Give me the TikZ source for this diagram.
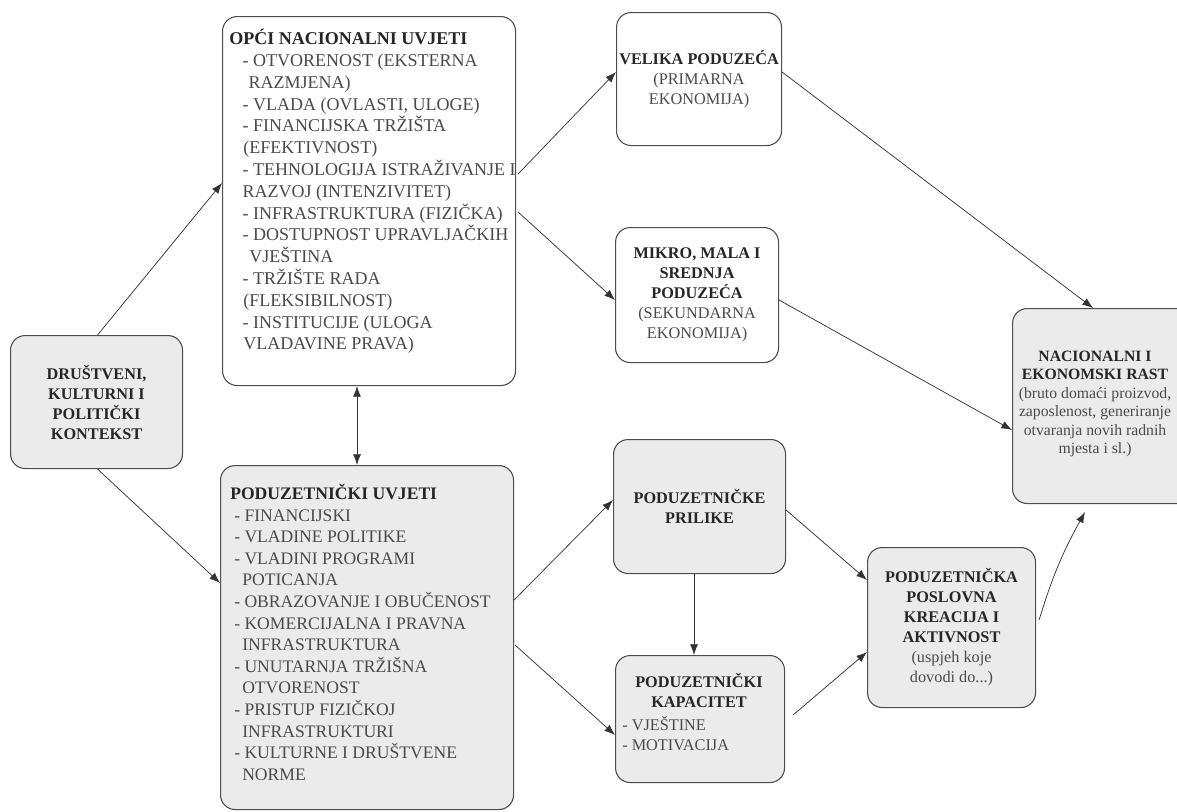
\documentclass[tikz,border=0pt]{standalone}
\usepackage{fontspec}
\setmainfont{Liberation Serif}
\usetikzlibrary{arrows.meta,calc}
\definecolor{boxgray}{HTML}{EBEBEB}
\definecolor{edgec}{HTML}{4D4D4D}
\definecolor{txt}{HTML}{262626}
\definecolor{txtl}{HTML}{4A4A4A}
\begin{document}
\begin{tikzpicture}[x=0.75pt,y=-0.75pt,
  box/.style={draw=edgec, line width=0.8pt, rounded corners=11pt, inner sep=0pt, anchor=north west, align=center, text=txt},
  wbox/.style={box, fill=white},
  gbox/.style={box, fill=boxgray},
  arr/.style={draw=black!80, line width=0.55pt, -{Latex[length=8pt,width=6pt]}},
  darr/.style={draw=black!80, line width=0.55pt, {Latex[length=8pt,width=6pt]}-{Latex[length=8pt,width=6pt]}},
  sf/.style={font=\fontsize{12.2}{15}\selectfont},
  nf/.style={font=\fontsize{11.8}{13.8}\selectfont},
  lt/.style={anchor=north west, inner sep=0pt, align=left, text=txtl},
]
\useasboundingbox (0,0) rectangle (1177,811);

% boxes
\node[gbox, sf, minimum width=172*0.75pt, minimum height=133*0.75pt] (ctx) at (10,335)
  {\textbf{DRUŠTVENI,}\\\textbf{KULTURNI I}\\\textbf{POLITIČKI}\\\textbf{KONTEKST}};
\node[wbox, minimum width=293*0.75pt, minimum height=369*0.75pt] (opci) at (222,16) {};
\node[gbox, minimum width=293*0.75pt, minimum height=344*0.75pt] (pu) at (220,465) {};
\node[wbox, sf, minimum width=165*0.75pt, minimum height=133*0.75pt] (vel) at (616,12)
  {\textbf{VELIKA PODUZEĆA}\\\textcolor{txtl}{(PRIMARNA}\\\textcolor{txtl}{EKONOMIJA)}};
\node[wbox, sf, minimum width=163*0.75pt, minimum height=135*0.75pt] (mik) at (615,227)
  {\textbf{MIKRO, MALA I}\\\textbf{SREDNJA}\\\textbf{PODUZEĆA}\\\textcolor{txtl}{(SEKUNDARNA}\\\textcolor{txtl}{EKONOMIJA)}};
\node[gbox, minimum width=190*0.75pt, minimum height=195*0.75pt] (nac) at (1012,308) {};
\node[nf, inner sep=0pt, align=center, text=txt] (nact) at (1095,404)
  {\textbf{NACIONALNI I}\\\textbf{EKONOMSKI RAST}\\\textcolor{txtl}{(bruto domaći proizvod,}\\\textcolor{txtl}{zaposlenost, generiranje}\\\textcolor{txtl}{otvaranja novih radnih}\\\textcolor{txtl}{mjesta i sl.)}};
\node[gbox, sf, minimum width=172*0.75pt, minimum height=134*0.75pt] (pri) at (613,439)
  {\textbf{PODUZETNIČKE}\\\textbf{PRILIKE}};
\node[gbox, minimum width=169*0.75pt, minimum height=127*0.75pt] (kap) at (615,655) {};
\node[gbox, sf, minimum width=168*0.75pt, minimum height=160*0.75pt] (pos) at (867,547)
  {\textbf{PODUZETNIČKA}\\\textbf{POSLOVNA}\\\textbf{KREACIJA I}\\\textbf{AKTIVNOST}\\\textcolor{txtl}{(uspjeh koje}\\\textcolor{txtl}{dovodi do...)}};

% texts in large boxes
\node[lt, font=\fontsize{13.5}{16.35}\selectfont] (opcit) at (229,29)
  {\textcolor{txt}{\textbf{OPĆI NACIONALNI UVJETI}}\\
   \hspace*{10pt}- OTVORENOST (EKSTERNA\\
   \hspace*{14.5pt}RAZMJENA)\\
   \hspace*{10pt}- VLADA (OVLASTI, ULOGE)\\
   \hspace*{10pt}- FINANCIJSKA TRŽIŠTA\\
   \hspace*{10.5pt}(EFEKTIVNOST)\\
   \hspace*{10pt}- TEHNOLOGIJA ISTRAŽIVANJE I\\
   \hspace*{10pt}RAZVOJ (INTENZIVITET)\\
   \hspace*{10pt}- INFRASTRUKTURA (FIZIČKA)\\
   \hspace*{10pt}- DOSTUPNOST UPRAVLJAČKIH\\
   \hspace*{15pt}VJEŠTINA\\
   \hspace*{10pt}- TRŽIŠTE RADA\\
   \hspace*{10.5pt}(FLEKSIBILNOST)\\
   \hspace*{10pt}- INSTITUCIJE (ULOGA\\
   \hspace*{10.5pt}VLADAVINE PRAVA)};
\node[lt, font=\fontsize{13.2}{16.2}\selectfont] (put) at (230,484)
  {\textcolor{txt}{\textbf{PODUZETNIČKI UVJETI}}\\
   \hspace*{3pt}- FINANCIJSKI\\
   \hspace*{3pt}- VLADINE POLITIKE\\
   \hspace*{3pt}- VLADINI PROGRAMI\\
   \hspace*{9pt}POTICANJA\\
   \hspace*{3pt}- OBRAZOVANJE I OBUČENOST\\
   \hspace*{3pt}- KOMERCIJALNA I PRAVNA\\
   \hspace*{9pt}INFRASTRUKTURA\\
   \hspace*{3pt}- UNUTARNJA TRŽIŠNA\\
   \hspace*{9pt}OTVORENOST\\
   \hspace*{3pt}- PRISTUP FIZIČKOJ\\
   \hspace*{9pt}INFRASTRUKTURI\\
   \hspace*{3pt}- KULTURNE I DRUŠTVENE\\
   \hspace*{9pt}NORME};
\node[sf, anchor=north, inner sep=0pt, align=center, text=txt] (kapt) at (699,673)
  {\textbf{PODUZETNIČKI}\\\textbf{KAPACITET}};
\node[lt, sf] (kapi) at (622,716) {- VJEŠTINE\\- MOTIVACIJA};

% connectors
\draw[arr] ($(ctx.north)+(1,0)$) -- ($(opci.north west)+(0,167)$);
\draw[arr] ($(ctx.south)+(1,0)$) -- ($(pu.north west)+(0,118)$);
\draw[darr] ($(opci.south west)+(135,0)$) -- ($(pu.north west)+(137,0)$);
\draw[arr] ($(opci.north east)+(2,158)$) -- ($(vel.north west)+(0,60)$);
\draw[arr] ($(opci.north east)+(2,196)$) -- ($(mik.north west)+(0,73)$);
\draw[arr] ($(vel.north east)+(0,60)$) -- ($(nac.north west)+(81,0)$);
\draw[arr] ($(mik.north east)+(0,73)$) -- ($(nac.north west)+(0,122)$);
\draw[arr] ($(pu.north east)+(0,135)$) -- ($(pri.north west)+(0,61)$);
\draw[arr] ($(pu.north east)+(1,180)$) -- ($(kap.north west)+(0,80)$);
\draw[arr] ($(pri.south west)+(81,0)$) -- ($(kap.north west)+(79,0)$);
\draw[arr] ($(pri.north east)+(0,71)$) -- ($(pos.north west)+(0,33)$);
\draw[arr] ($(kap.north east)+(8,60)$) -- ($(pos.north west)+(0,105)$);
\draw[arr] ($(pos.north east)+(3,73)$) to[bend left=6] ($(nac.south west)+(73,8)$);
\end{tikzpicture}
\end{document}
